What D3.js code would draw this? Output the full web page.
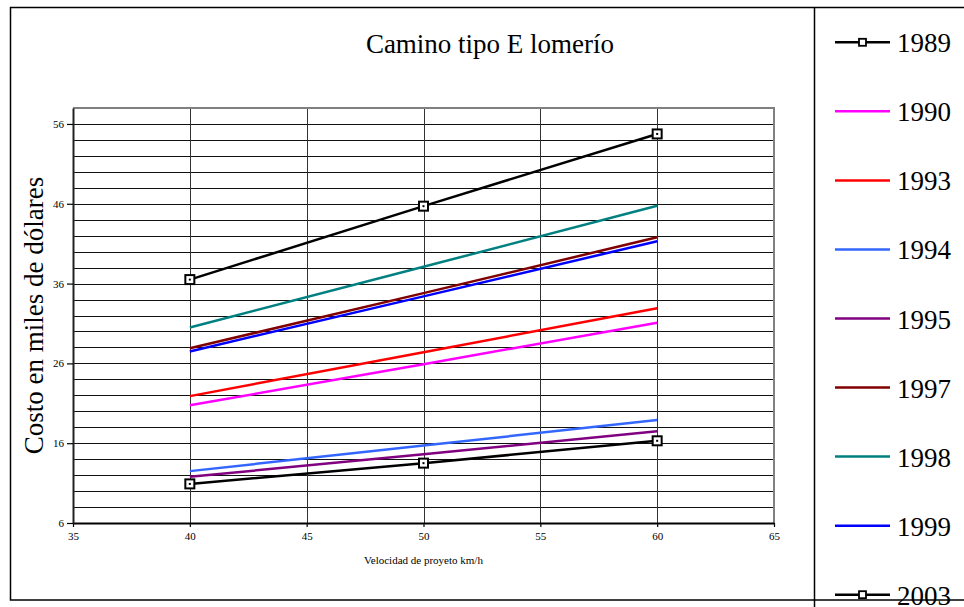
<!DOCTYPE html>
<html>
<head>
<meta charset="utf-8">
<script src="https://cdn.jsdelivr.net/npm/d3@7"></script>
<style>
  html, body { margin: 0; padding: 0; background: #fff; }
  svg { display: block; font-family: "Liberation Serif", "Times New Roman", serif; }
  svg text { font-family: "Liberation Serif", "Times New Roman", serif; }
</style>
</head>
<body>
<svg id="chart" width="964" height="607"></svg>
<script>
// ---- Data ----
const speeds = [40, 50, 60];
const years = ["1989", "1990", "1993", "1994", "1995", "1997", "1998", "1999", "2003"];
const v1989 = [36.5, 45.7, 54.75];
const v1990 = [20.75, 25.9, 31.1];
const v1993 = [21.9, 27.4, 32.9];
const v1994 = [12.5, 15.7, 18.9];
const v1995 = [11.8, 14.6, 17.5];
const v1997 = [27.9, 34.8, 41.8];
const v1998 = [30.5, 38.1, 45.75];
const v1999 = [27.5, 34.4, 41.3];
const v2003 = [10.9, 13.5, 16.3];
const colors = ["#000000", "#FF00FF", "#FF0000", "#3366FF", "#800080", "#800000", "#008080", "#0000FF", "#000000"];
const markers = [true, false, false, false, false, false, false, false, true];
const xTicks = [35, 40, 45, 50, 55, 60, 65];
const yTickLabels = [6, 16, 26, 36, 46, 56];
const title = "Camino tipo E lomerío";
const yTitle = "Costo en miles de dólares";
const xTitle = "Velocidad de proyeto km/h";

const seriesValues = [v1989, v1990, v1993, v1994, v1995, v1997, v1998, v1999, v2003];
const series = years.map((y, i) => ({
  name: y, color: colors[i], marker: markers[i],
  points: speeds.map((s, j) => ({ x: s, y: seriesValues[i][j] }))
}));

const FONT = "'Liberation Serif', 'Times New Roman', serif";
const svg = d3.select("#chart");

// outer frame
svg.append("rect").attr("x", 10.5).attr("y", 7.5).attr("width", 965).attr("height", 592.5)
  .attr("fill", "none").attr("stroke", "#000").attr("stroke-width", 1.5);
svg.append("line").attr("x1", 814.5).attr("x2", 814.5).attr("y1", 7).attr("y2", 607)
  .attr("stroke", "#000").attr("stroke-width", 1.5);

// scales
const x = d3.scaleLinear().domain([35, 65]).range([73, 774]);
const y = d3.scaleLinear().domain([6, 58]).range([523, 108]);

// gridlines
const g = svg.append("g");
const hGrid = d3.range(8, 57, 2);
g.selectAll("line.h").data(hGrid).enter().append("line")
  .attr("x1", x(35)).attr("x2", x(65))
  .attr("y1", d => Math.round(y(d)) + 0.5).attr("y2", d => Math.round(y(d)) + 0.5)
  .attr("stroke", "#111").attr("stroke-width", 1);
const vGrid = xTicks.slice(1, -1);
g.selectAll("line.v").data(vGrid).enter().append("line")
  .attr("x1", d => Math.round(x(d)) + 0.5).attr("x2", d => Math.round(x(d)) + 0.5)
  .attr("y1", y(58)).attr("y2", y(6))
  .attr("stroke", "#333").attr("stroke-width", 1);

// plot border top/right grey
svg.append("line").attr("x1", x(35)).attr("x2", x(65) + 1).attr("y1", y(58)).attr("y2", y(58))
  .attr("stroke", "#808080").attr("stroke-width", 2);
svg.append("line").attr("x1", x(65)).attr("x2", x(65)).attr("y1", y(58)).attr("y2", y(6))
  .attr("stroke", "#808080").attr("stroke-width", 2);

// axes
const xAxis = d3.axisBottom(x).tickValues(xTicks).tickSize(4).tickSizeOuter(0).tickPadding(5).tickFormat(d3.format("d"));
const xg = svg.append("g").attr("transform", `translate(0,${y(6)})`).call(xAxis);
xg.attr("font-family", FONT);
xg.select(".domain").attr("stroke", "#000").attr("stroke-width", 2);
xg.selectAll(".tick line").attr("stroke", "#000").attr("stroke-width", 1.2);
xg.selectAll(".tick text").attr("font-family", FONT).attr("font-size", 11).attr("fill", "#000");

const yAxis = d3.axisLeft(y).tickValues(yTickLabels).tickSize(6).tickSizeOuter(0).tickPadding(3).tickFormat(d3.format("d"));
const yg = svg.append("g").attr("transform", `translate(${x(35)},0)`).call(yAxis);
yg.attr("font-family", FONT);
yg.select(".domain").attr("stroke", "#222").attr("stroke-width", 2);
yg.selectAll(".tick line").attr("stroke", "#000").attr("stroke-width", 1.2);
yg.selectAll(".tick text").attr("font-family", FONT).attr("font-size", 11).attr("fill", "#000");

// series lines
const line = d3.line().x(d => x(d.x)).y(d => y(d.y));
const sg = svg.append("g");
series.forEach(s => {
  sg.append("path").datum(s.points).attr("d", line)
    .attr("fill", "none").attr("stroke", s.color).attr("stroke-width", 2.5);
});
series.filter(s => s.marker).forEach(s => {
  const mg = sg.append("g");
  mg.selectAll("rect.m").data(s.points).enter().append("rect")
    .attr("x", d => x(d.x) - 4.5).attr("y", d => y(d.y) - 4.5)
    .attr("width", 9).attr("height", 9)
    .attr("fill", "#fff").attr("stroke", "#000").attr("stroke-width", 2);
  mg.selectAll("rect.c").data(s.points).enter().append("rect")
    .attr("x", d => x(d.x) - 1).attr("y", d => y(d.y) - 1)
    .attr("width", 2).attr("height", 2).attr("fill", "#000");
});

// titles
svg.append("text").attr("x", 490).attr("y", 53).attr("text-anchor", "middle")
  .attr("font-family", FONT).attr("font-size", 27).attr("fill", "#000").text(title);
svg.append("text").attr("transform", "translate(43,315.5) rotate(-90)").attr("text-anchor", "middle")
  .attr("font-family", FONT).attr("font-size", 27).attr("fill", "#000").text(yTitle);
svg.append("text").attr("x", (x(35) + x(65)) / 2).attr("y", 564).attr("text-anchor", "middle")
  .attr("font-family", FONT).attr("font-size", 11).attr("fill", "#000").text(xTitle);

// legend
const lg = svg.append("g");
series.forEach((s, i) => {
  const ly = 42.3 + i * 69.05;
  lg.append("line").attr("x1", 835).attr("x2", 890).attr("y1", ly).attr("y2", ly)
    .attr("stroke", s.color).attr("stroke-width", 2.5);
  if (s.marker) {
    lg.append("rect").attr("x", 862.5 - 3.5).attr("y", ly - 3.5).attr("width", 7).attr("height", 7)
      .attr("fill", "#fff").attr("stroke", "#000").attr("stroke-width", 1.8);
  }
  lg.append("text").attr("x", 897).attr("y", ly + 10).attr("font-family", FONT)
    .attr("font-size", 27).attr("fill", "#000").text(s.name);
});
</script>
</body>
</html>
